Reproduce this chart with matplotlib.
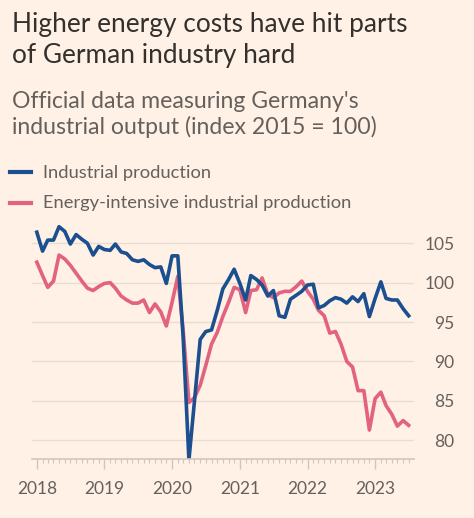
import numpy as np
import pandas as pd
import matplotlib
matplotlib.use("Agg")
import matplotlib.pyplot as plt
import matplotlib.dates as mdates

# monthly index values, Jan 2018 - Jul 2023 (2015 = 100)
months = pd.date_range("2018-01-01", periods=67, freq="MS")

industrial = [
    106.4, 104.0, 105.4, 105.4, 107.1, 106.5, 104.9, 106.1, 105.5, 105.0, 103.5, 104.6,
    104.2, 104.1, 104.9, 103.9, 103.7, 102.9, 102.7, 102.9, 102.3, 101.9, 102.0, 99.9,
    103.4, 103.4, 93.0, 77.5, 85.0, 92.8, 93.8, 94.0, 96.5, 99.2, 100.4, 101.7,
    99.9, 97.8, 100.9, 100.4, 99.7, 98.3, 99.0, 95.8, 95.6, 97.9, 98.4, 98.9,
    99.7, 99.8, 96.8, 97.1, 97.7, 98.1, 97.9, 97.4, 98.2, 97.6, 98.6, 95.7,
    98.0, 100.1, 98.0, 97.8, 97.8, 96.7, 95.8,
]

energy_intensive = [
    102.6, 100.9, 99.4, 100.2, 103.5, 103.0, 102.2, 101.2, 100.2, 99.3, 99.0, 99.5,
    99.9, 100.0, 99.3, 98.3, 97.8, 97.4, 97.4, 97.8, 96.2, 97.3, 96.3, 94.5,
    97.5, 100.8, 93.9, 84.8, 85.4, 87.0, 89.5, 92.2, 93.7, 95.7, 97.5, 99.4,
    99.1, 96.2, 99.0, 99.1, 100.6, 98.5, 98.1, 98.7, 98.9, 98.9, 99.5, 100.2,
    98.9, 97.9, 96.5, 95.8, 93.6, 93.8, 92.2, 90.0, 89.3, 86.3, 86.3, 81.3,
    85.3, 86.1, 84.4, 83.3, 81.8, 82.5, 81.9,
]

y_ticks = [80, 85, 90, 95, 100, 105]

bg = "#FFF1E5"
blue = "#1B4F8F"
pink = "#E2627F"
grey_text = "#66605C"

plt.rcParams["font.family"] = ["Lato", "DejaVu Sans"]

fig = plt.figure(figsize=(4.74, 5.18), dpi=100, facecolor=bg)
ax = fig.add_axes([0.0675, 0.1135, 0.806, 0.458], facecolor=bg)

ax.plot(months, energy_intensive, color=pink, linewidth=2.6, solid_joinstyle="round")
ax.plot(months, industrial, color=blue, linewidth=2.6, solid_joinstyle="round")

ax.set_xlim(pd.Timestamp("2017-12-06"), pd.Timestamp("2023-07-30"))
ax.set_ylim(77.6, 107.7)

# horizontal grid
ax.set_yticks(y_ticks)
ax.yaxis.tick_right()
ax.grid(axis="y", color="#E8DDD2", linewidth=1)
ax.tick_params(axis="y", length=0, pad=29, labelsize=12.5, labelcolor=grey_text)
for lab in ax.get_yticklabels():
    lab.set_horizontalalignment("right")

# month ticks on the baseline, years labelled
ax.xaxis.set_major_locator(mdates.YearLocator())
ax.xaxis.set_major_formatter(mdates.DateFormatter("%Y"))
ax.xaxis.set_minor_locator(mdates.MonthLocator())
ax.tick_params(axis="x", which="major", length=7.5, width=1, color="#CFC6BD",
               pad=8, labelsize=12.5, labelcolor=grey_text)
ax.tick_params(axis="x", which="minor", length=3, width=0.8, color="#CFC6BD")

for side in ["top", "left", "right"]:
    ax.spines[side].set_visible(False)
ax.spines["bottom"].set_color("#CFC6BD")
ax.spines["bottom"].set_linewidth(1.2)

# titles
fig.text(0.025, 0.938, "Higher energy costs have hit parts", fontsize=18.9, color="#33302E", va="baseline")
fig.text(0.025, 0.878, "of German industry hard", fontsize=18.9, color="#33302E", va="baseline")
fig.text(0.025, 0.792, "Official data measuring Germany's", fontsize=16.6, color=grey_text, va="baseline")
fig.text(0.025, 0.7405, "industrial output (index 2015 = 100)", fontsize=16.6, color=grey_text, va="baseline")

# legend
fig.add_artist(plt.Line2D([0.022, 0.065], [0.667, 0.667], color=blue, linewidth=3, transform=fig.transFigure))
fig.text(0.09, 0.656, "Industrial production", fontsize=13.2, color=grey_text, va="baseline")
fig.add_artist(plt.Line2D([0.022, 0.065], [0.609, 0.609], color=pink, linewidth=3, transform=fig.transFigure))
fig.text(0.09, 0.598, "Energy-intensive industrial production", fontsize=13.2, color=grey_text, va="baseline")

fig.savefig("out.png", dpi=100, facecolor=bg)
